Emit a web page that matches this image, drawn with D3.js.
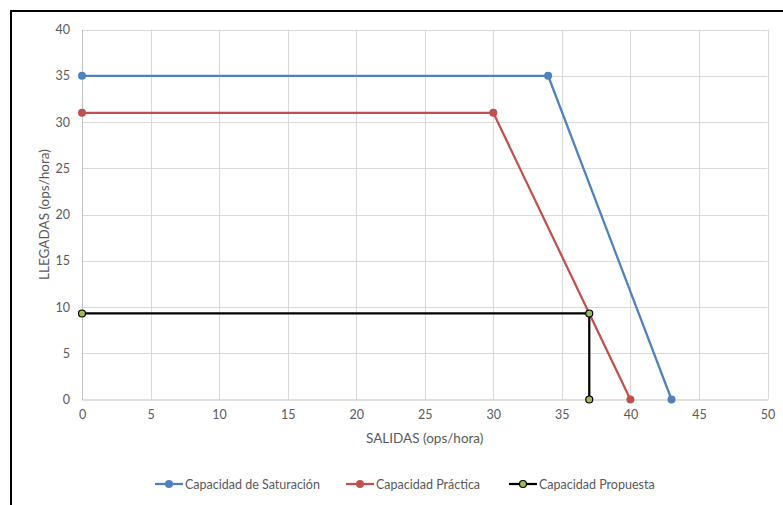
<!DOCTYPE html>
<html>
<head>
<meta charset="utf-8">
<script src="https://cdn.jsdelivr.net/npm/d3@7"></script>
<style>
  html, body { margin: 0; padding: 0; background: #fff; }
  svg { display: block; }
  text { font-family: Lato, "Open Sans", sans-serif; fill: #595959; }
</style>
</head>
<body>
<svg id="chart" width="783" height="505"></svg>
<script>
// Capacity envelopes: arrivals (LLEGADAS) vs departures (SALIDAS), ops/hora
const seriesNames = ["Capacidad de Saturación", "Capacidad Práctica", "Capacidad Propuesta"];
const saturacionX = [0, 34, 43];
const saturacionY = [35, 35, 0];
const practicaX = [0, 30, 40];
const practicaY = [31, 31, 0];
const propuestaX = [0, 37, 37];
const propuestaY = [9.3, 9.3, 0];
const xTicks = [0, 5, 10, 15, 20, 25, 30, 35, 40, 45, 50];
const yTicks = [0, 5, 10, 15, 20, 25, 30, 35, 40];

const series = [
  { name: seriesNames[0], xs: saturacionX, ys: saturacionY, line: "#4f81bd", fill: "#4f81bd", stroke: "#4f81bd" },
  { name: seriesNames[1], xs: practicaX, ys: practicaY, line: "#c0504d", fill: "#c0504d", stroke: "#c0504d" },
  { name: seriesNames[2], xs: propuestaX, ys: propuestaY, line: "#000000", fill: "#9bbb59", stroke: "#000000" }
];

const svg = d3.select("#chart");

// outer chart frame
svg.append("rect")
  .attr("x", 11).attr("y", 11)
  .attr("width", 800).attr("height", 520)
  .attr("fill", "none").attr("stroke", "#000").attr("stroke-width", 2);

const plotLeft = 82, plotRight = 767.5, plotTop = 29.5, plotBottom = 399.5;
const x = d3.scaleLinear().domain([0, 50]).range([plotLeft, plotRight]);
const y = d3.scaleLinear().domain([0, 40]).range([plotBottom, plotTop]);

// gridlines
svg.append("g").selectAll("line").data(xTicks.filter(d => d > 0)).join("line")
  .attr("x1", d => Math.round(x(d)) + 0.5).attr("x2", d => Math.round(x(d)) + 0.5)
  .attr("y1", plotTop).attr("y2", plotBottom)
  .attr("stroke", "#d9d9d9").attr("stroke-width", 1);
svg.append("g").selectAll("line").data(yTicks.filter(d => d > 0)).join("line")
  .attr("x1", plotLeft).attr("x2", plotRight)
  .attr("y1", d => Math.round(y(d)) + 0.5).attr("y2", d => Math.round(y(d)) + 0.5)
  .attr("stroke", "#d9d9d9").attr("stroke-width", 1);

// axes
const xAxis = svg.append("g").attr("transform", `translate(0,${plotBottom})`)
  .call(d3.axisBottom(x).tickValues(xTicks).tickSize(0).tickPadding(11));
const yAxis = svg.append("g").attr("transform", `translate(${plotLeft},0)`)
  .call(d3.axisLeft(y).tickValues(yTicks).tickSize(0).tickPadding(12));
[xAxis, yAxis].forEach(a => {
  a.select(".domain").attr("stroke", "#bfbfbf").attr("stroke-width", 1);
  a.selectAll("text").style("font-size", "12.5px").attr("fill", "#595959")
    .style("font-family", "Lato, 'Open Sans', sans-serif");
});

// axis titles
svg.append("text")
  .attr("x", (plotLeft + plotRight) / 2).attr("y", 443)
  .attr("text-anchor", "middle").style("font-size", "13.5px")
  .text("SALIDAS (ops/hora)");
svg.append("text")
  .attr("transform", `translate(49,${(plotTop + plotBottom) / 2}) rotate(-90)`)
  .attr("text-anchor", "middle").style("font-size", "13.5px")
  .text("LLEGADAS (ops/hora)");

// series lines and markers
const line = d3.line().x(d => x(d[0])).y(d => y(d[1]));
series.forEach(s => {
  const pts = s.xs.map((v, i) => [v, s.ys[i]]);
  svg.append("path").datum(pts)
    .attr("d", line).attr("fill", "none")
    .attr("stroke", s.line).attr("stroke-width", 2.25).attr("stroke-linejoin", "round");
  svg.append("g").selectAll("circle").data(pts).join("circle")
    .attr("cx", d => x(d[0])).attr("cy", d => y(d[1]))
    .attr("r", s.fill === s.stroke ? 4 : 3.5)
    .attr("fill", s.fill).attr("stroke", s.stroke).attr("stroke-width", s.fill === s.stroke ? 0 : 1.2);
});

// legend
const legendX = [155, 346, 509];
const legend = svg.append("g");
series.forEach((s, i) => {
  const g = legend.append("g").attr("transform", `translate(${legendX[i]},484)`);
  g.append("line").attr("x1", 0).attr("x2", 28).attr("y1", 0).attr("y2", 0)
    .attr("stroke", s.line).attr("stroke-width", 2.25);
  g.append("circle").attr("cx", 14).attr("cy", 0)
    .attr("r", s.fill === s.stroke ? 4 : 3.5)
    .attr("fill", s.fill).attr("stroke", s.stroke).attr("stroke-width", s.fill === s.stroke ? 0 : 1.2);
  g.append("text").attr("x", 30).attr("y", 4.5).style("font-size", "12.5px").text(s.name);
});
</script>
</body>
</html>
